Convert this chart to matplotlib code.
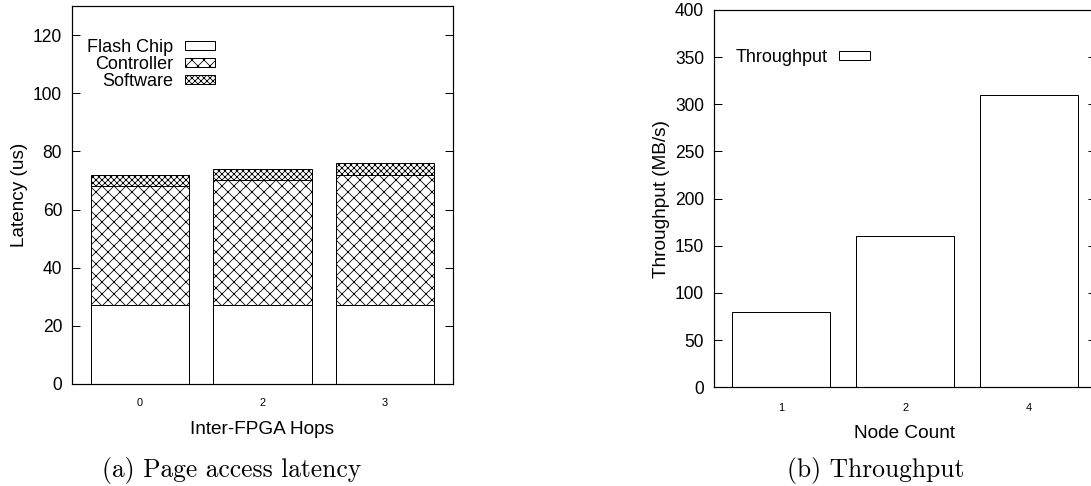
import matplotlib
matplotlib.use("Agg")
import matplotlib.pyplot as plt
from matplotlib.patches import Patch

plt.rcParams['font.family'] = ['Liberation Sans', 'DejaVu Sans']
plt.rcParams['hatch.linewidth'] = 0.8
plt.rcParams['axes.linewidth'] = 1.2

# ---- data ----
hops = ['0', '2', '3']
flash_chip = [27, 27, 27]
controller = [41, 43, 45]
software = [4, 4, 4]

nodes = ['1', '2', '4']
throughput = [80, 160, 310]

DPI = 72
fig = plt.figure(figsize=(1091 / DPI, 486 / DPI), dpi=DPI)

TICK_FS = 17.5
LABEL_FS = 19
LEG_FS = 18

# ---- left chart ----
ax1 = fig.add_axes([72 / 1091, (486 - 384) / 486, 381 / 1091, 378 / 486])
x1 = list(range(len(hops)))
w1 = 0.804
ax1.bar(x1, flash_chip, w1, facecolor='white', edgecolor='black', linewidth=1.0)
ax1.bar(x1, controller, w1, bottom=flash_chip, facecolor='white', edgecolor='black',
        linewidth=1.0, hatch='xx')
bottom2 = [a + b for a, b in zip(flash_chip, controller)]
ax1.bar(x1, software, w1, bottom=bottom2, facecolor='white', edgecolor='black',
        linewidth=1.0, hatch='xxxx')
ax1.set_xlim(-0.554, 2.554)
ax1.set_ylim(0, 130)
ax1.set_yticks(range(0, 121, 20))
ax1.set_xticks(x1)
ax1.set_xticklabels(hops, fontsize=11)
ax1.tick_params(axis='y', direction='in', length=8, width=1, left=True, right=True,
                labelsize=TICK_FS, pad=10)
ax1.tick_params(axis='x', length=0, pad=14)
ax1.set_xlabel('Inter-FPGA Hops', fontsize=LABEL_FS, va='center')
ax1.xaxis.set_label_coords(0.5, (384 - 430) / 378)
ax1.set_ylabel('Latency (us)', fontsize=LABEL_FS, va='center')
ax1.yaxis.set_label_coords((20 - 72) / 381, 0.5)
handles1 = [Patch(facecolor='white', edgecolor='black', linewidth=1.0, label='Flash Chip'),
            Patch(facecolor='white', edgecolor='black', linewidth=1.0, hatch='xx', label='Controller'),
            Patch(facecolor='white', edgecolor='black', linewidth=1.0, hatch='xxxx', label='Software')]
ax1.legend(handles=handles1, loc='upper right', bbox_to_anchor=(0.376, 0.914),
           markerfirst=False, frameon=False, fontsize=LEG_FS, handlelength=1.7,
           handleheight=0.4, handletextpad=0.65, labelspacing=0.0, borderpad=0,
           borderaxespad=0)

# ---- right chart ----
ax2 = fig.add_axes([714 / 1091, (486 - 387.3) / 486, 382 / 1091, 377.3 / 486])
x2 = list(range(len(nodes)))
ax2.bar(x2, throughput, 0.79, facecolor='white', edgecolor='black', linewidth=1.0)
ax2.set_xlim(-0.543, 2.54)
ax2.set_ylim(0, 400)
ax2.set_yticks(range(0, 401, 50))
ax2.set_xticks(x2)
ax2.set_xticklabels(nodes, fontsize=11)
ax2.tick_params(axis='y', direction='in', length=8, width=1, left=True, right=True,
                labelsize=TICK_FS, pad=10)
ax2.tick_params(axis='x', length=0, pad=16)
ax2.set_xlabel('Node Count', fontsize=LABEL_FS, va='center')
ax2.xaxis.set_label_coords(0.5, (387.3 - 433) / 377.3)
ax2.set_ylabel('Throughput (MB/s)', fontsize=LABEL_FS, va='center')
ax2.yaxis.set_label_coords((662 - 714) / 382, 0.5)
handles2 = [Patch(facecolor='white', edgecolor='black', linewidth=1.0, label='Throughput')]
ax2.legend(handles=handles2, loc='upper left', bbox_to_anchor=(0.057, 0.897),
           markerfirst=False, frameon=False, fontsize=LEG_FS, handlelength=1.7,
           handleheight=0.4, handletextpad=0.65, borderpad=0, borderaxespad=0)

# ---- captions ----
fig.text(232 / 1091, 1 - 471 / 486, '(a) Page access latency', family='cmr10',
         fontsize=25.5, ha='center', va='center')
fig.text(876 / 1091, 1 - 471 / 486, '(b) Throughput', family='cmr10',
         fontsize=25.5, ha='center', va='center')

fig.savefig('out.png', dpi=DPI, facecolor='white')
